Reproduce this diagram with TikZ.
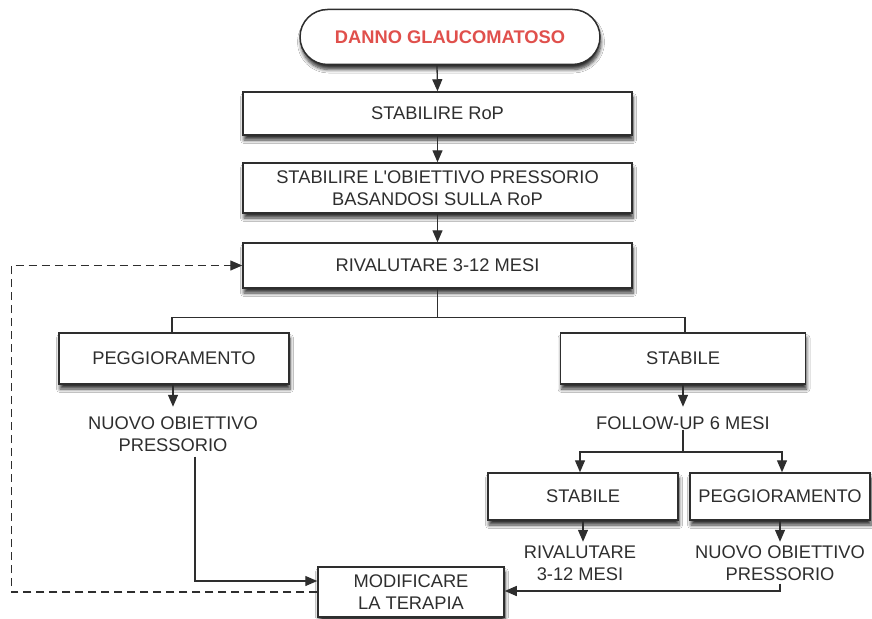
\documentclass[tikz,border=0pt]{standalone}
\usepackage{fontspec}
\setmainfont{Liberation Sans}[Ligatures=TeXOff]
\usetikzlibrary{shapes.misc,shadows.blur,arrows.meta}
\definecolor{ink}{HTML}{2E2E2E}
\definecolor{redtxt}{HTML}{E0504C}
\begin{document}
\begin{tikzpicture}[x=1pt,y=-1pt,
  font=\fontsize{18.3}{22}\selectfont,
  every node/.style={text=ink},
  box/.style={draw=ink, line width=1.5pt, fill=white, align=center, inner sep=0pt,
    blur shadow={shadow xshift=1pt, shadow yshift=-5pt, shadow blur steps=6, shadow blur radius=3.5pt, shadow opacity=80}},
  txt/.style={align=center, inner sep=0pt},
  conn/.style={draw=ink, line width=1.3pt},
  arr/.style={conn, -{Triangle[length=12pt,width=10pt]}},
  dashconn/.style={arr, dash pattern=on 8pt off 5pt}]
\useasboundingbox[fill=white] (0,0) rectangle (872,618);

\node[box, rounded rectangle, minimum width=300pt, minimum height=55pt, text=redtxt] (dg) at (450,37) {\textbf{DANNO GLAUCOMATOSO}};
\node[box, minimum width=389pt, minimum height=43pt] (rop) at (437.5,113.5) {STABILIRE RoP};
\node[box, minimum width=389pt, minimum height=50pt] (obj) at (437.5,188) {STABILIRE L'OBIETTIVO PRESSORIO\\BASANDOSI SULLA RoP};
\node[box, minimum width=389pt, minimum height=45pt] (riv) at (437.5,265.5) {RIVALUTARE 3-12 MESI};
\node[box, minimum width=230pt, minimum height=51pt] (pegg) at (174,358.5) {PEGGIORAMENTO};
\node[box, minimum width=245pt, minimum height=51pt] (stab) at (683,358.5) {STABILE};
\node[txt] (nuovo1) at (173,434) {NUOVO OBIETTIVO\\PRESSORIO};
\node[txt] (fu) at (683,423) {FOLLOW-UP 6 MESI};
\coordinate (fk) at (683,452);
\node[box, minimum width=190pt, minimum height=47pt] (stab2) at (583,496.5) {STABILE};
\node[box, minimum width=180pt, minimum height=47pt] (pegg2) at (780,496.5) {PEGGIORAMENTO};
\node[txt] (riv2) at (580,563) {RIVALUTARE\\3-12 MESI};
\node[txt] (nuovo2) at (780,563) {NUOVO OBIETTIVO\\PRESSORIO};
\node[box, minimum width=186pt, minimum height=50pt] (mod) at (411,592) {MODIFICARE\\LA TERAPIA};

\draw[arr] ([xshift=-13pt]dg.south) -- ([yshift=0pt]rop.north);
\draw[arr] (rop.south) -- (obj.north);
\draw[arr] (obj.south) -- (riv.north);
\draw[conn] (riv.south) -- ++(0,29) -| ([xshift=-2pt]pegg.north);
\draw[conn] (riv.south) -- ++(0,29) -| ([xshift=2pt]stab.north);
\draw[arr] ([xshift=-1pt]pegg.south) -- ++(0,22);
\draw[arr] (stab.south) -- ++(0,22);
\draw[conn] (fu.south) -- (fk);
\draw[arr] (fk) -| ([xshift=-3pt]stab2.north);
\draw[arr] (fk) -| ([xshift=2pt]pegg2.north);
\draw[arr] (stab2.south) -- ++(0,21);
\draw[arr] (pegg2.south) -- ++(0,21);
\draw[arr] ([xshift=22pt,yshift=-5pt]nuovo1.south) |- ([yshift=11pt]mod.west);
\draw[arr] ([yshift=-3pt]nuovo2.south) |- ([yshift=1pt]mod.east);
\draw[dashconn] (mod.west) -- ++(-306,0) |- (riv.west);
\end{tikzpicture}
\end{document}
